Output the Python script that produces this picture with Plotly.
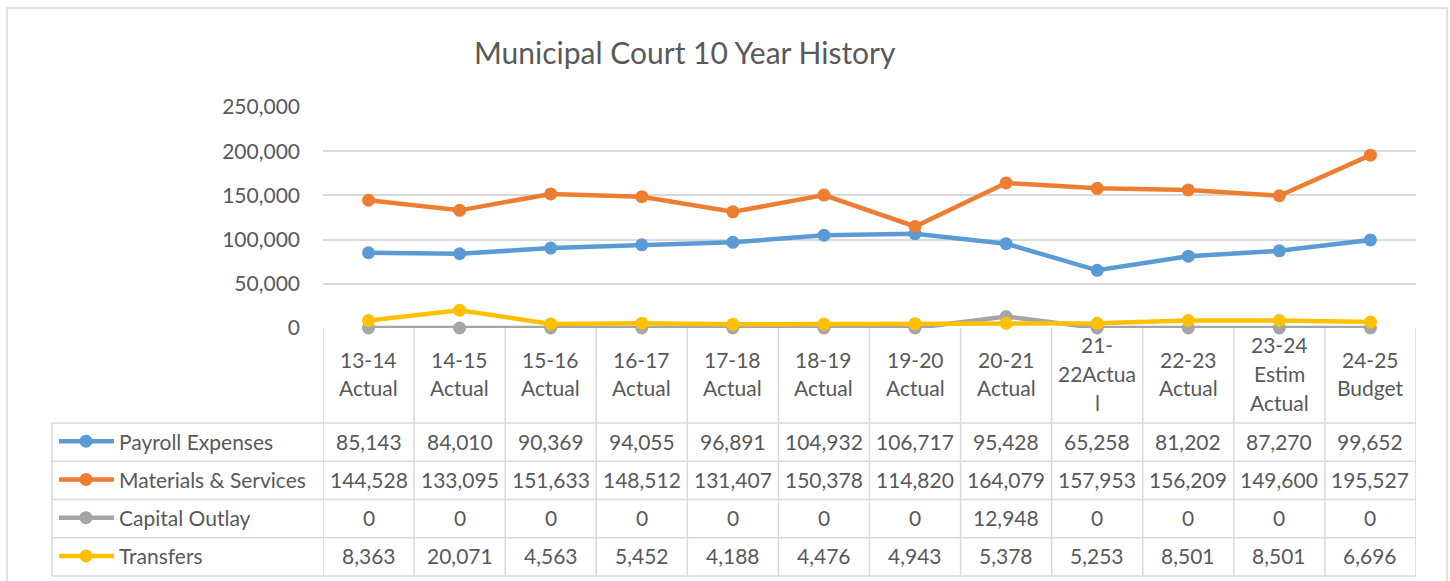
import plotly.graph_objects as go

W, H = 1450, 581

# ---- data -------------------------------------------------------------
categories = [
    "13-14\nActual", "14-15\nActual", "15-16\nActual", "16-17\nActual",
    "17-18\nActual", "18-19\nActual", "19-20\nActual", "20-21\nActual",
    "21-\n22Actua\nl", "22-23\nActual", "23-24\nEstim\nActual", "24-25\nBudget",
]
payroll_expenses = [85143, 84010, 90369, 94055, 96891, 104932, 106717, 95428, 65258, 81202, 87270, 99652]
materials_services = [144528, 133095, 151633, 148512, 131407, 150378, 114820, 164079, 157953, 156209, 149600, 195527]
capital_outlay = [0, 0, 0, 0, 0, 0, 0, 12948, 0, 0, 0, 0]
transfers = [8363, 20071, 4563, 5452, 4188, 4476, 4943, 5378, 5253, 8501, 8501, 6696]

series_names = ["Payroll Expenses", "Materials & Services", "Capital Outlay", "Transfers"]
series_values = [payroll_expenses, materials_services, capital_outlay, transfers]
series_colors = ["#5B9BD5", "#ED7D31", "#A5A5A5", "#FFC000"]

y_ticks = [0, 50000, 100000, 150000, 200000, 250000]
title_text = "Municipal Court 10 Year History"

# ---- geometry (pixels) ----------------------------------------------
FONT = "Lato"
FS = 21
TEXT = "#595959"
GRID = "#D9D9D9"
PLOT_L, PLOT_R = 323, 1416
PLOT_T, PLOT_B = 107, 328
TABLE_L = 52
HEADER_B = 423
TABLE_B = 576
N = len(categories)
ROW_H = (TABLE_B - HEADER_B) / len(series_names)


def px(x):
    return x / W


def py(y):
    return 1 - y / H


fig = go.Figure()

for name, vals, col in zip(series_names, series_values, series_colors):
    fig.add_trace(go.Scatter(
        x=categories, y=vals, name=name, mode="lines+markers",
        line=dict(color=col, width=4.5),
        marker=dict(color=col, size=13),
        cliponaxis=False, showlegend=False,
    ))

shapes = []
annotations = []

# outer chart border
shapes.append(dict(type="rect", xref="paper", yref="paper",
                   x0=px(7), x1=px(1447), y0=py(600), y1=py(8),
                   line=dict(color=GRID, width=1.5)))

# table: vertical column borders
for k in range(N + 1):
    shapes.append(dict(type="line", xref="x", yref="paper",
                       x0=k - 0.5, x1=k - 0.5, y0=py(PLOT_B), y1=py(TABLE_B),
                       line=dict(color=GRID, width=1.5)))
# left border of the series-name column
shapes.append(dict(type="line", xref="paper", yref="paper",
                   x0=px(TABLE_L), x1=px(TABLE_L), y0=py(HEADER_B), y1=py(TABLE_B),
                   line=dict(color=GRID, width=1.5)))
# horizontal row borders
for r in range(len(series_names) + 1):
    yy = HEADER_B + r * ROW_H
    shapes.append(dict(type="line", xref="paper", yref="paper",
                       x0=px(TABLE_L), x1=px(PLOT_R), y0=py(yy), y1=py(yy),
                       line=dict(color=GRID, width=1.5)))

# category header cells
LINE_GAP = 29
header_mid = (PLOT_B + HEADER_B) / 2 - 2
for i, cat in enumerate(categories):
    lines = cat.split("\n")
    start = header_mid - (len(lines) - 1) * LINE_GAP / 2
    for j, ln in enumerate(lines):
        annotations.append(dict(
            x=i, xref="x", y=py(start + j * LINE_GAP), yref="paper",
            text=ln, showarrow=False, xanchor="center", yanchor="middle",
            font=dict(family=FONT, size=FS, color=TEXT),
        ))

# data rows: legend key, series name and values
for r, (name, vals, col) in enumerate(zip(series_names, series_values, series_colors)):
    yc = HEADER_B + (r + 0.5) * ROW_H - 1
    shapes.append(dict(type="line", xref="paper", yref="paper",
                       x0=px(59), x1=px(114), y0=py(yc), y1=py(yc),
                       line=dict(color=col, width=4.5)))
    shapes.append(dict(type="circle", xref="paper", yref="paper",
                       x0=px(86 - 6.5), x1=px(86 + 6.5), y0=py(yc + 6.5), y1=py(yc - 6.5),
                       fillcolor=col, line=dict(color=col, width=0)))
    annotations.append(dict(
        x=px(117), xref="paper", y=py(yc), yref="paper", text=name,
        showarrow=False, xanchor="left", yanchor="middle",
        font=dict(family=FONT, size=FS, color=TEXT),
    ))
    for i, v in enumerate(vals):
        annotations.append(dict(
            x=i, xref="x", y=py(yc), yref="paper", text=f"{v:,}",
            showarrow=False, xanchor="center", yanchor="middle",
            font=dict(family=FONT, size=FS, color=TEXT),
        ))

# title
annotations.append(dict(
    x=px(685), xref="paper", y=py(52), yref="paper", text=title_text,
    showarrow=False, xanchor="center", yanchor="middle",
    font=dict(family=FONT, size=30, color=TEXT),
))

fig.update_layout(
    width=W, height=H, autosize=False,
    margin=dict(l=0, r=0, t=0, b=0, pad=0),
    paper_bgcolor="white", plot_bgcolor="white",
    shapes=shapes, annotations=annotations,
    xaxis=dict(domain=[px(PLOT_L), px(PLOT_R)], range=[-0.5, N - 0.5],
               showticklabels=False, showgrid=False, zeroline=False,
               showline=False, ticks="", automargin=False),
    yaxis=dict(domain=[py(PLOT_B), py(PLOT_T)], range=[0, 250000],
               tickvals=y_ticks, ticktext=[f"{t:,}" for t in y_ticks],
               showgrid=True, gridcolor=GRID, gridwidth=1.5,
               zeroline=False, showline=False, ticks="", automargin=False,
               ticklabelstandoff=22,
               tickfont=dict(family=FONT, size=FS, color=TEXT)),
)

fig.write_html(
    "out.html",
    post_script="document.body.style.margin='0';document.body.style.overflow='hidden';",
)
